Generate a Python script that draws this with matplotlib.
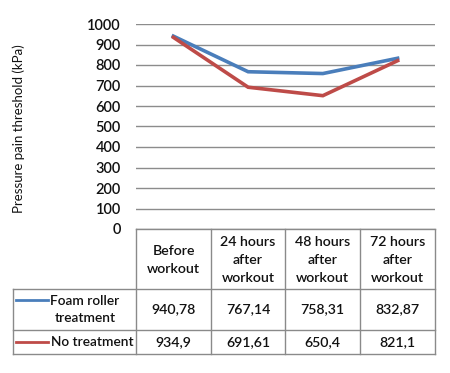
import matplotlib
matplotlib.use("Agg")
import matplotlib.pyplot as plt

categories = ["Before\nworkout", "24 hours\nafter\nworkout", "48 hours\nafter\nworkout", "72 hours\nafter\nworkout"]
series_names = ["Foam roller\ntreatment", "No treatment"]
foam = [940.78, 767.14, 758.31, 832.87]
none_ = [934.9, 691.61, 650.4, 821.1]
series = [foam, none_]
colors = ["#4a7ebb", "#be4b48"]
yticks = [0, 100, 200, 300, 400, 500, 600, 700, 800, 900, 1000]

plt.rcParams['font.family'] = ['Lato', 'DejaVu Sans']

W, H = 450, 373
fig = plt.figure(figsize=(W / 100, H / 100), dpi=100)

x0, x1 = 136, 435
ytop, ybot = 24, 229
ax = fig.add_axes([x0 / W, (H - ybot) / H, (x1 - x0) / W, (ybot - ytop) / H])
xs = list(range(len(categories)))
for vals, c in zip(series, colors):
    ax.plot(xs, vals, color=c, lw=2.6, solid_joinstyle='miter')
ax.set_xlim(-0.5, len(categories) - 0.5)
ax.set_ylim(0, 1000)
ax.set_yticks(yticks)
ax.set_yticklabels([str(t) for t in yticks], fontsize=10.5, fontweight='semibold', color='#111111')
ax.tick_params(axis='y', length=0, pad=11)
ax.set_xticks([])
for s in ax.spines.values():
    s.set_visible(False)
ax.yaxis.grid(True, color='#8c8c8c', lw=1.0)
ax.set_axisbelow(True)
ax.set_ylabel("Pressure pain threshold (kPa)", fontsize=9.5, color='#111111')
ax.yaxis.set_label_coords(-(x0 - 25) / (x1 - x0), 0.49)

# table
t = fig.add_axes([0, 0, 1, 1])
t.set_xlim(0, W)
t.set_ylim(H, 0)
t.axis('off')
cols = [136, 211, 285, 360, 435]
rows = [229, 289, 330, 354]
left = 13
lc = '#8a8a8a'
t.plot([cols[0], cols[-1]], [rows[0], rows[0]], color=lc, lw=1)
for r in rows[1:]:
    t.plot([left, cols[-1]], [r, r], color=lc, lw=1)
for cx in cols:
    t.plot([cx, cx], [rows[0], rows[-1]], color=lc, lw=1)
t.plot([left, left], [rows[1], rows[-1]], color=lc, lw=1)

fs = 10.2
for i, cat in enumerate(categories):
    cx = (cols[i] + cols[i + 1]) / 2
    t.text(cx, (rows[0] + rows[1]) / 2 + 1, cat, ha='center', va='center', fontsize=fs,
           linespacing=1.6, color='#111111', fontweight='semibold')

for j, (name, vals, c) in enumerate(zip(series_names, series, colors)):
    cy = (rows[j + 1] + rows[j + 2]) / 2
    ly = cy - (10 if j == 0 else 0)
    t.plot([16, 48], [ly, ly], color=c, lw=2)
    t.text(51 if j == 1 else 85, cy, name, ha='left' if j == 1 else 'center', va='center',
           fontsize=9.9, linespacing=1.5, color='#111111', fontweight='semibold')
    for i, v in enumerate(vals):
        cx = (cols[i] + cols[i + 1]) / 2
        s = ("%g" % v).replace('.', ',')
        t.text(cx, cy, s, ha='center', va='center', fontsize=fs, color='#111111', fontweight='semibold')

fig.savefig("out.png", dpi=100, facecolor='white')
